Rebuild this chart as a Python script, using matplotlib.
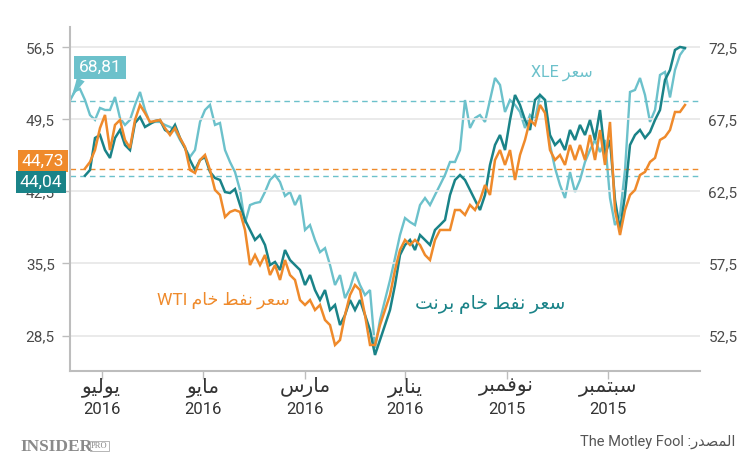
import matplotlib
matplotlib.use("Agg")
import matplotlib.pyplot as plt
import numpy as np
import pandas as pd

plt.rcParams['font.family'] = ['Roboto', 'DejaVu Sans']

# ---------------- data (newest first, 3-day grid) ----------------
last_date = '2016-07-20'
step_days = 3

xle = [68.81, 69.48, 69.62, 68.85, 67.81, 67.47, 68.30, 68.16, 68.16, 69.06,
       67.60, 67.12, 67.47, 68.51, 69.41, 68.16, 67.26, 67.33, 67.33, 67.12,
       66.98, 66.77, 66.08, 65.52, 64.90, 65.38, 67.33, 68.16, 68.51, 67.12,
       67.26, 65.38, 64.55, 63.85, 62.60, 60.31, 61.56, 61.70, 61.77, 62.47,
       63.30, 63.65, 63.16, 62.19, 62.47, 61.56, 62.26, 59.83, 60.17, 59.13,
       58.29, 58.57, 57.40, 56.01, 56.70, 55.10, 55.80, 56.91, 56.01, 55.31,
       55.66, 51.63, 53.58, 54.97, 56.35, 57.88, 59.48, 60.66, 60.38, 60.17,
       61.56, 62.05, 61.56, 62.26, 62.95, 63.65, 64.55, 64.55, 65.38, 68.85,
       66.91, 67.60, 67.81, 67.33, 68.85, 70.38, 69.90, 68.02, 68.85, 68.51,
       68.02, 66.91, 67.81, 67.47, 69.20, 68.85, 65.73, 64.13, 62.95, 62.05,
       63.85, 62.47, 63.30, 64.55, 65.38, 66.08, 65.24, 66.08, 62.05, 60.17,
       60.87, 63.99, 69.41, 69.55, 70.38, 69.20, 67.33, 68.16, 70.59, 70.80,
       69.03, 70.94, 71.98, 72.47]

brent = [np.nan, np.nan, np.nan, 44.04, 44.59, 47.70, 47.99, 46.53, 45.76, 47.70,
         48.48, 47.02, 46.53, 49.16, 49.74, 48.77, 49.06, 49.35, 49.45, 48.48,
         48.19, 48.97, 47.70, 46.73, 45.56, 44.59, 45.56, 45.85, 44.40, 43.81,
         43.62, 42.45, 42.35, 42.74, 41.19, 39.73, 38.76, 37.79, 38.27, 37.30,
         35.35, 35.65, 34.87, 36.81, 35.84, 35.35, 34.87, 33.41, 34.38, 32.92,
         31.95, 32.92, 30.98, 31.47, 29.52, 30.49, 31.95, 30.98, 31.95, 30.49,
         29.04, 26.61, 28.06, 29.52, 30.98, 33.41, 36.33, 37.30, 37.79, 36.81,
         38.27, 37.79, 37.30, 38.76, 39.24, 39.73, 42.16, 43.62, 44.10, 43.62,
         42.65, 41.67, 40.70, 42.16, 45.08, 47.02, 47.99, 46.53, 49.45, 51.88,
         50.91, 49.45, 48.48, 51.40, 51.88, 51.40, 47.99, 47.02, 47.51, 46.53,
         48.48, 47.51, 48.97, 47.99, 49.45, 47.51, 50.42, 46.05, 47.51, 41.67,
         38.76, 42.16, 47.02, 47.99, 48.48, 47.70, 48.28, 49.45, 50.42, 53.34,
         54.31, 56.26, 56.55, 56.45]

wti = [np.nan, np.nan, np.nan, 44.73, 45.37, 46.53, 48.67, 49.94, 46.53, 48.97,
       49.45, 47.51, 46.73, 49.45, 50.91, 50.13, 49.26, 49.35, 49.45, 48.67,
       47.99, 48.67, 47.70, 46.83, 44.59, 44.30, 45.56, 46.05, 44.59, 42.65,
       42.16, 40.02, 40.51, 40.70, 40.51, 38.76, 35.35, 36.33, 35.35, 36.33,
       34.38, 35.35, 33.90, 35.84, 34.38, 33.90, 31.95, 31.47, 31.95, 30.98,
       31.47, 30.01, 29.52, 27.58, 28.06, 30.49, 32.44, 33.41, 32.92, 30.49,
       27.58, 27.58, 29.52, 30.98, 32.44, 34.87, 36.81, 37.79, 37.30, 37.79,
       37.30, 36.33, 35.84, 37.79, 38.76, 38.76, 38.76, 40.70, 40.70, 40.22,
       41.19, 40.70, 41.67, 43.13, 42.16, 45.56, 46.53, 45.08, 46.53, 43.62,
       46.05, 47.51, 49.45, 48.97, 50.91, 50.13, 46.53, 45.56, 46.05, 45.08,
       47.02, 45.56, 47.02, 45.56, 47.99, 45.56, 48.48, 45.08, 49.26, 40.70,
       38.27, 40.70, 42.16, 42.65, 44.10, 44.40, 45.37, 45.76, 47.51, 47.80,
       48.48, 50.23, 50.23, 50.91]

left_ticks = [28.5, 35.5, 42.5, 49.5, 56.5]
right_ticks = [52.5, 57.5, 62.5, 67.5, 72.5]
month_ticks = ['2016-07-01', '2016-05-01', '2016-03-01', '2016-01-01', '2015-11-01', '2015-09-01']
month_names = ['يوليو', 'مايو', 'مارس', 'يناير', 'نوفمبر', 'سبتمبر']
month_years = ['2016', '2016', '2016', '2016', '2015', '2015']

last_xle, last_wti, last_brent = 68.81, 44.73, 44.04

# ---------------- simple Arabic shaping (presentation forms) ----------------
FORMS = {
    'ا': ('\uFE8D', '\uFE8E', None, None),
    'ب': ('\uFE8F', '\uFE90', '\uFE91', '\uFE92'),
    'ت': ('\uFE95', '\uFE96', '\uFE97', '\uFE98'),
    'خ': ('\uFEA5', '\uFEA6', '\uFEA7', '\uFEA8'),
    'د': ('\uFEA9', '\uFEAA', None, None),
    'ر': ('\uFEAD', '\uFEAE', None, None),
    'س': ('\uFEB1', '\uFEB2', '\uFEB3', '\uFEB4'),
    'ص': ('\uFEB9', '\uFEBA', '\uFEBB', '\uFEBC'),
    'ط': ('\uFEC1', '\uFEC2', '\uFEC3', '\uFEC4'),
    'ع': ('\uFEC9', '\uFECA', '\uFECB', '\uFECC'),
    'ف': ('\uFED1', '\uFED2', '\uFED3', '\uFED4'),
    'ل': ('\uFEDD', '\uFEDE', '\uFEDF', '\uFEE0'),
    'م': ('\uFEE1', '\uFEE2', '\uFEE3', '\uFEE4'),
    'ن': ('\uFEE5', '\uFEE6', '\uFEE7', '\uFEE8'),
    'و': ('\uFEED', '\uFEEE', None, None),
    'ي': ('\uFEF1', '\uFEF2', '\uFEF3', '\uFEF4'),
}


def shape_word(word):
    if not any(c in FORMS for c in word):
        return word
    out = []
    for i, c in enumerate(word):
        if c not in FORMS:
            out.append(c)
            continue
        prev = word[i - 1] if i > 0 else None
        nxt = word[i + 1] if i + 1 < len(word) else None
        jp = prev in FORMS and FORMS[prev][2] is not None
        jn = nxt in FORMS and FORMS[c][2] is not None
        iso, fin, ini, med = FORMS[c]
        if jp and jn:
            out.append(med)
        elif jp:
            out.append(fin)
        elif jn:
            out.append(ini)
        else:
            out.append(iso)
    return ''.join(reversed(out))


def ar(text):
    words = text.split(' ')
    return ' '.join(shape_word(w) for w in reversed(words))


# ---------------- figure ----------------
C_XLE = '#6cc1cb'
C_BRENT = '#1a8388'
C_WTI = '#ef8a2b'
C_GRID = '#e6e6e6'
C_AX = '#bdbdbd'
C_TXT = '#4a4a4a'

W, H = 750, 468
fig = plt.figure(figsize=(7.5, 4.68), dpi=100)
ax = fig.add_axes([70 / W, 1 - 371 / H, 630 / W, 344 / H])
ax2 = ax.twinx()

dates = pd.date_range(end=last_date, periods=len(xle), freq=f'{step_days}D')[::-1]

ax2.plot(dates, xle, color=C_XLE, lw=1.7, zorder=2, solid_joinstyle='miter')
ax.plot(dates, brent, color=C_BRENT, lw=1.8, zorder=3, solid_joinstyle='miter')
ax.plot(dates, wti, color=C_WTI, lw=1.8, zorder=4, solid_joinstyle='miter')

# reference lines
ax2.axhline(last_xle, color=C_XLE, lw=1, ls=(0, (4, 3)), zorder=1)
ax.axhline(last_wti, color=C_WTI, lw=1, ls=(0, (4, 3)), zorder=1)
ax.axhline(last_brent, color=C_XLE, lw=1, ls=(0, (4, 3)), zorder=1)

# axes limits
ax.set_ylim(25.05, 58.49)
ax2.set_ylim(50.04, 73.92)
ax.set_xlim(pd.Timestamp('2016-07-20'), pd.Timestamp('2015-07-08'))
ax.set_zorder(ax2.get_zorder() + 1)
ax.patch.set_visible(False)

# grid / ticks
ax.set_yticks(left_ticks)
ax.set_yticklabels([f'{v:.1f}'.replace('.', ',') for v in left_ticks])
ax.yaxis.grid(True, color=C_GRID, lw=1.2)
ax.set_axisbelow(True)
ax2.set_yticks(right_ticks)
ax2.set_yticklabels([f'{v:.1f}'.replace('.', ',') for v in right_ticks])

tick_dates = pd.to_datetime(month_ticks)
ax.set_xticks(tick_dates)
ax.set_xticklabels([''] * len(tick_dates))
for d, m, y in zip(tick_dates, month_names, month_years):
    ax.annotate(ar(m), xy=(d, 0), xycoords=('data', 'axes fraction'),
                xytext=(0, -16), textcoords='offset pixels', ha='center', va='center',
                fontsize=14.5, color='#333333', annotation_clip=False)
    ax.annotate(y, xy=(d, 0), xycoords=('data', 'axes fraction'),
                xytext=(0, -39), textcoords='offset pixels', ha='center', va='center',
                fontsize=12, color='#333333', annotation_clip=False)

for s in ['top', 'right']:
    ax.spines[s].set_visible(False)
for s in ['top', 'right', 'left', 'bottom']:
    ax2.spines[s].set_visible(False)
ax.spines['left'].set_color(C_AX)
ax.spines['bottom'].set_color(C_AX)
ax.spines['left'].set_linewidth(1.5)
ax.spines['bottom'].set_linewidth(1.5)

ax.tick_params(axis='y', length=6, width=1, color=C_AX, labelcolor=C_TXT, labelsize=11, pad=5)
ax.tick_params(axis='x', length=6, width=1, color=C_AX)
ax2.tick_params(axis='y', length=0, labelcolor=C_TXT, labelsize=11, pad=6)

# value boxes
ax2.annotate('68,81', xy=(dates[0], last_xle), xytext=(30, 33), textcoords='offset pixels',
             ha='center', va='center', color='white', fontsize=12.5,
             bbox=dict(boxstyle='square,pad=0.25', fc=C_XLE, ec='none'),
             arrowprops=dict(arrowstyle='wedge,tail_width=0.5,shrink_factor=0.4',
                             fc=C_XLE, ec='none', shrinkA=0, shrinkB=0,
                             relpos=(0.12, 0.1)),
             zorder=6)

fig.text(43 / W, 1 - 161 / H, '44,73', ha='center', va='center', color='white', fontsize=12.5,
         bbox=dict(boxstyle='square,pad=0.22', fc=C_WTI, ec='none'))
fig.text(41 / W, 1 - 182 / H, '44,04', ha='center', va='center', color='white', fontsize=12.5,
         bbox=dict(boxstyle='square,pad=0.22', fc=C_BRENT, ec='none'))

# series labels
fig.text(562 / W, 1 - 73 / H, 'XLE ' + ar('سعر'), ha='center', va='center', color=C_XLE, fontsize=11.5)
fig.text(223 / W, 1 - 300 / H, 'WTI ' + ar('سعر نفط خام'), ha='center', va='center', color=C_WTI, fontsize=12.5)
fig.text(490 / W, 1 - 304 / H, ar('سعر نفط خام برنت'), ha='center', va='center', color=C_BRENT, fontsize=13.5)

# footer
fig.text(20 / W, 1 - 447 / H, 'INSIDER', ha='left', va='center', color='#8a8a8a', fontsize=12.5,
         fontweight='bold', family='Liberation Serif')
fig.text(91 / W, 1 - 446 / H, 'PRO', ha='left', va='center', color='#8a8a8a', fontsize=6,
         family='Liberation Serif',
         bbox=dict(boxstyle='square,pad=0.15', fc='none', ec='#aaaaaa', lw=0.6))
fig.text(735 / W, 1 - 442 / H, 'The Motley Fool :' + ar('المصدر'), ha='right', va='center',
         color='#555555', fontsize=10.5)

fig.savefig('out.png', dpi=100)
